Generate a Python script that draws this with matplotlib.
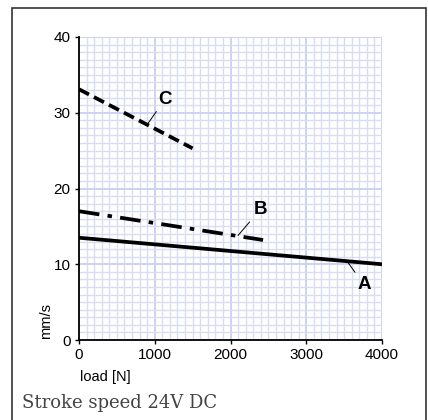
import numpy as np
import matplotlib
matplotlib.use('Agg')
import matplotlib.pyplot as plt
from matplotlib.ticker import MultipleLocator
from matplotlib.patches import Rectangle

#DATA
load_A = [0, 4000]
speed_A = [13.5, 10.0]
load_B = [0, 2430]
speed_B = [17.0, 13.2]
load_C = [0, 1500]
speed_C = [33.1, 25.3]
x_ticks = [0, 1000, 2000, 3000, 4000]
y_ticks = [0, 10, 20, 30, 40]

plt.rcParams['font.family'] = ['Liberation Sans', 'DejaVu Sans']

fig = plt.figure(figsize=(4.28, 4.20), dpi=100)
ax = fig.add_axes([79/428, 80/420, 303/428, 303/420])

# grid
ax.xaxis.set_minor_locator(MultipleLocator(100))
ax.yaxis.set_minor_locator(MultipleLocator(1))
ax.grid(which='minor', color='#d8ddf4', lw=1.0)
ax.grid(which='major', color='#ccd3f1', lw=1.4)
ax.set_axisbelow(True)

# curves
ax.plot(load_A, speed_A, color='black', lw=2.7, solid_capstyle='butt')
ax.plot(load_B, speed_B, color='black', lw=2.7, dashes=(5.5, 2.2, 1.2, 2.2))
ax.plot(load_C, speed_C, color='black', lw=2.7, dashes=(3.0, 1.5))

lbl = dict(fontsize=13.5, fontweight='bold', ha='center', va='center')
arr = dict(arrowstyle='-', lw=0.7, color='black', shrinkA=1, shrinkB=0)
ax.annotate('C', xy=(898, 28.4), xytext=(1135, 31.8), arrowprops=arr, **lbl)
ax.annotate('B', xy=(2100, 13.8), xytext=(2390, 17.2), arrowprops=arr, **lbl)
ax.annotate('A', xy=(3538, 10.4), xytext=(3762, 7.3), arrowprops=arr, **lbl)

ax.set_xlim(0, 4000)
ax.set_ylim(0, 40)
ax.set_xticks(x_ticks)
ax.set_yticks(y_ticks)
ax.tick_params(which='major', length=3, width=1, labelsize=11, pad=3)
ax.tick_params(which='minor', length=0)
for s in ['top', 'right']:
    ax.spines[s].set_visible(False)
for s in ['left', 'bottom']:
    ax.spines[s].set_linewidth(1.3)

fig.text(80/428, 1-381/420, 'load [N]', fontsize=10.5, ha='left', va='baseline')
fig.text(46/428, 1-339/420, 'mm/s', fontsize=10.5, rotation=90, ha='center', va='bottom')
fig.text(22/428, 1-408/420, 'Stroke speed 24V DC', fontsize=13, family='DejaVu Serif',
         color='#444444', ha='left', va='baseline')

# outer frame
fig.patches.append(Rectangle((12/428, -0.1), 414/428, 1.1 - 8/420, transform=fig.transFigure,
                             fill=False, edgecolor='#333333', lw=1.2))

fig.savefig('out.png', dpi=100)
